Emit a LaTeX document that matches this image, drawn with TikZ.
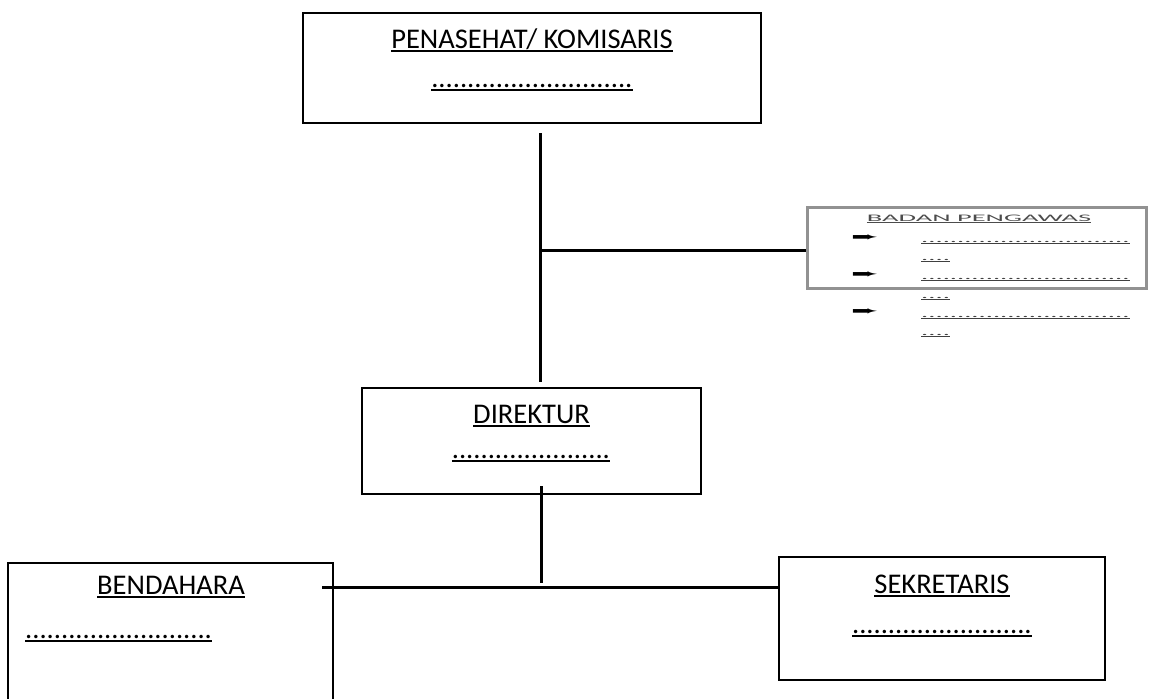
\documentclass[tikz,border=0pt]{standalone}
\usepackage{fontspec}
\usepackage{graphicx}
\setmainfont{Carlito}
\newfontfamily\dejavu{DejaVu Sans}
\newcommand\myul[1]{\leavevmode\setbox0=\hbox{#1}\rlap{\copy0}\rule[-4pt]{\wd0}{2pt}}
\newcommand\sq[1]{\scalebox{1}[0.35]{#1}}
\definecolor{pengawasgray}{HTML}{929292}
\begin{document}
\begin{tikzpicture}[x=1pt,y=-1pt,
  box/.style={draw=black, line width=2pt, rectangle, inner sep=0pt},
  conn/.style={draw=black, line width=3pt},
  lbl/.style={inner sep=0pt, anchor=base, font=\fontsize{28.5}{34}\selectfont},
  lblw/.style={inner sep=0pt, anchor=base west, font=\fontsize{28.5}{34}\selectfont},
  bul/.style={inner sep=0pt, anchor=base west, font=\fontsize{22}{26}\selectfont\dejavu}]
\useasboundingbox (0,0) rectangle (1149,699);
% boxes
\node[box, minimum width=458pt, minimum height=110pt] (pen) at (532,68) {};
\node[box, minimum width=339pt, minimum height=106pt] (dir) at (531.5,441) {};
\node[box, minimum width=325pt, minimum height=157pt] (ben) at (170.5,641.5) {};
\node[box, minimum width=326pt, minimum height=123pt] (sek) at (942,618.5) {};
\node[draw=pengawasgray, line width=3pt, rectangle, inner sep=0pt, minimum width=339pt, minimum height=81pt] (bp) at (976.5,247.5) {};
% connector points
\coordinate (c1) at (540,133);
\coordinate (c2) at (540,382);
\coordinate (c3) at (540,250);
\coordinate (c4) at (541,486);
\coordinate (c5) at (541,583);
\coordinate (c6) at (322,587);
\draw[conn] (c1) -- (c2);
\draw[conn] (c3) -- (c3 -| bp.west);
\draw[conn] (c4) -- (c5);
\draw[conn] (c6) -- (c6 -| sek.west);
% texts
\node[lbl] (penT) at (532,48) {\myul{PENASEHAT/ KOMISARIS}};
\node[lbl] (penD) at (532,87) {\myul{............................}};
\node[lbl] (dirT) at (531.5,423) {\myul{DIREKTUR}};
\node[lbl] (dirD) at (531,458) {\myul{......................}};
\node[lbl] (benT) at (171,594) {\myul{BENDAHARA}};
\node[lblw] (benD) at (25,638) {\myul{..........................}};
\node[lbl] (sekT) at (942,593) {\myul{SEKRETARIS}};
\node[lbl] (sekD) at (942,633) {\myul{.........................}};
% badan pengawas contents
\node[lbl, text=black!70] (bpT) at (979,221) {\sq{\myul{BADAN PENGAWAS}}};
\node[bul] (b1) at (851,241) {\scalebox{1.5}[0.6]{➨}};
\node[bul] (b2) at (851,278) {\scalebox{1.5}[0.6]{➨}};
\node[bul] (b3) at (851,315) {\scalebox{1.5}[0.6]{➨}};
\node[lblw, text=black!75] (r1) at (921,242) {\sq{\myul{.............................}}};
\node[lblw, text=black!75] (r2) at (921,260) {\sq{\myul{....}}};
\node[lblw, text=black!75] (r3) at (921,279) {\sq{\myul{.............................}}};
\node[lblw, text=black!75] (r4) at (921,298) {\sq{\myul{....}}};
\node[lblw, text=black!75] (r5) at (921,317) {\sq{\myul{.............................}}};
\node[lblw, text=black!75] (r6) at (921,335) {\sq{\myul{....}}};
\end{tikzpicture}
\end{document}
